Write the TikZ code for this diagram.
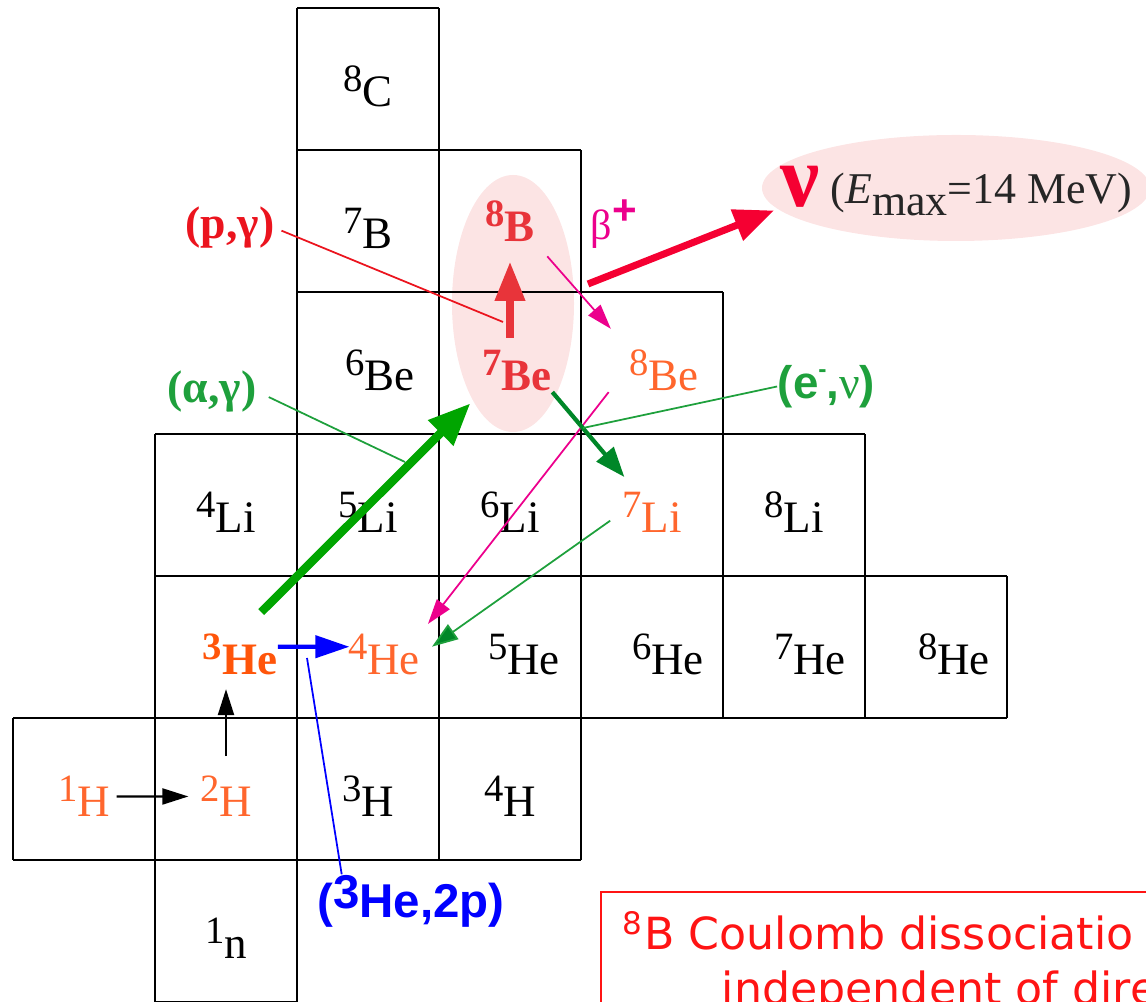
\documentclass[tikz,border=0pt]{standalone}
\usepackage{fontspec}
\setmainfont{Liberation Serif}
\newfontfamily\labsans{Liberation Sans}
\newfontfamily\notefont{DejaVu Sans}
\usetikzlibrary{arrows.meta}
\definecolor{isoorange}{RGB}{255,102,45}
\definecolor{heorange}{RGB}{255,85,10}
\definecolor{bered}{RGB}{232,52,58}
\definecolor{pinkbg}{RGB}{252,228,228}
\definecolor{nured}{RGB}{245,0,50}
\definecolor{agreen}{RGB}{0,165,0}
\definecolor{dgreen}{RGB}{0,135,40}
\definecolor{lgreen}{RGB}{30,160,60}
\definecolor{pgred}{RGB}{235,20,30}
\definecolor{notered}{RGB}{255,20,20}
\newcommand\iso[2]{\raisebox{4.4pt}{\fontsize{11}{11}\selectfont #1}#2}

\begin{document}
\begin{tikzpicture}[line cap=butt,
  cellline/.style={line width=0.8pt},
  iso/.style={anchor=base,inner sep=0pt,font=\fontsize{12.8}{14}\selectfont},
  rlabel/.style={inner sep=0pt,font=\fontsize{13}{14}\selectfont\bfseries},
  leader/.style={line width=0.5pt},
  blkarr/.style={-{Triangle[length=2.6mm,width=1.6mm]},line width=0.6pt},
  bluearr/.style={blue,-{Triangle[length=3.4mm,width=2.2mm]},line width=1.2pt},
  alphaarr/.style={agreen,-{Triangle[length=4.2mm,width=3.4mm]},line width=2.4pt},
  uparr/.style={bered,-{Triangle[length=3.9mm,width=2.9mm]},line width=2pt},
  nuarr/.style={nured,-{Triangle[length=4mm,width=3.2mm]},line width=2pt},
  magarr/.style={magenta,-{Triangle[length=2.5mm,width=1.6mm]},line width=0.5pt},
  ecarr/.style={dgreen,-{Triangle[length=3mm,width=2.2mm]},line width=1.2pt},
  pagarr/.style={lgreen,-{Triangle[length=2.6mm,width=1.8mm,fill=dgreen]},line width=0.5pt},
  notetext/.style={inner sep=0pt,text=notered,font=\notefont\fontsize{12.6}{15}\selectfont}]
\useasboundingbox (0,0) rectangle (11.46,10.02);
\clip (0,0) rectangle (11.46,10.02);
% pink backgrounds
\fill[pinkbg] (5.13,6.985) ellipse (0.61 and 1.285);
\fill[pinkbg] (9.56,8.14) ellipse (1.94 and 0.53);
% chart cells, one row per Z
\begin{scope}[shift={(0.13,0)},scale=1.42]
\draw[cellline,step=1] (1,0) grid (2,1);
\draw[cellline,step=1] (0,1) grid (4,2);
\draw[cellline,step=1] (1,2) grid (7,3);
\draw[cellline,step=1] (1,3) grid (6,4);
\draw[cellline,step=1] (2,4) grid (5,5);
\draw[cellline,step=1] (2,5) grid (4,6);
\draw[cellline,step=1] (2,6) grid (3,7);
\end{scope}
% nuclides
\node[iso] (n1) at (2.26,0.43) {\iso{1}{n}};
\node[iso,text=isoorange] (h1) at (0.84,1.85) {\iso{1}{H}};
\node[iso,text=isoorange] (h2) at (2.26,1.85) {\iso{2}{H}};
\node[iso] (h3) at (3.68,1.85) {\iso{3}{H}};
\node[iso] (h4) at (5.10,1.85) {\iso{4}{H}};
\node[iso,text=heorange,font=\fontsize{12.8}{14}\selectfont\bfseries] (he3) at (2.40,3.27) {\iso{3}{He}};
\node[iso,text=isoorange] (he4) at (3.84,3.27) {\iso{4}{He}};
\node[iso] (he5) at (5.24,3.27) {\iso{5}{He}};
\node[iso] (he6) at (6.68,3.27) {\iso{6}{He}};
\node[iso] (he7) at (8.10,3.27) {\iso{7}{He}};
\node[iso] (he8) at (9.54,3.27) {\iso{8}{He}};
\node[iso] (li4) at (2.26,4.69) {\iso{4}{Li}};
\node[iso] (li5) at (3.68,4.69) {\iso{5}{Li}};
\node[iso] (li6) at (5.10,4.69) {\iso{6}{Li}};
\node[iso,text=isoorange] (li7) at (6.52,4.69) {\iso{7}{Li}};
\node[iso] (li8) at (7.94,4.69) {\iso{8}{Li}};
\node[iso] (be6) at (3.80,6.11) {\iso{6}{Be}};
\node[iso,text=bered,font=\fontsize{12.8}{14}\selectfont\bfseries] (be7) at (5.17,6.11) {\iso{7}{Be}};
\node[iso,text=isoorange] (be8) at (6.64,6.11) {\iso{8}{Be}};
\node[iso] (b7) at (3.68,7.53) {\iso{7}{B}};
\node[iso,text=bered,font=\fontsize{12.8}{14}\selectfont\bfseries] (b8) at (5.10,7.60) {\iso{8}{B}};
\node[iso] (c8) at (3.68,8.95) {\iso{8}{C}};
% neutrino
\node[inner sep=0pt,text=nured,font=\fontsize{25}{26}\selectfont\bfseries] (nu) at (8.00,8.15) {ν};
\node[inner sep=0pt,text=black!85,font=\fontsize{12.5}{14}\selectfont] (emax) at (9.815,8.08) {(\textit{E}\raisebox{-1.2mm}{max}=14 MeV)};
% reaction labels
\node[rlabel,text=pgred] (pg) at (2.30,7.74) {(p,γ)};
\node[rlabel,text=lgreen] (ag) at (2.12,6.105) {(α,γ)};
\node[rlabel,text=lgreen] (en) at (8.265,6.155) {{\labsans(e\raisebox{0.45em}{\scriptsize -},}{\mdseries ν}{\labsans)}};
\node[rlabel,text=blue,font=\labsans\fontsize{13.5}{15}\selectfont\bfseries] (he3p) at (4.11,1.01) {(\raisebox{0.9mm}{3}He,2p)};
\node[inner sep=0pt,text=magenta,font=\fontsize{12}{13}\selectfont] (betap) at (6.14,7.78) {β\raisebox{0.35em}{\labsans\bfseries\fontsize{12}{12}\selectfont +}};
% free ends of the leaders
\coordinate (agend) at (4.05,5.40);
\coordinate (pgend) at (5.03,6.80);
\coordinate (encross) at (5.83,5.74);
\coordinate (blend) at (3.07,3.44);
\coordinate (nustart) at (5.88,7.18);
% reactions
\draw[blkarr,shorten <=0.6mm,shorten >=1.1mm] (h1.east) -- (h2.west);
\draw[blkarr,shorten <=1.9mm,shorten >=1.3mm] (h2.north) -- (h2.north |- he3.south);
\draw[bluearr,shorten >=-0.2mm] ([yshift=0.8mm]he3.east) -- ([yshift=0.8mm]he4.west);
\draw[blue,leader] (blend) -- ([xshift=2.5mm]he3p.north west);
\draw[alphaarr,shorten <=3mm,shorten >=1.6mm] (he3.north) -- (be7.south west);
\draw[lgreen,leader,shorten <=1.3mm] (ag.east) -- (agend);
\draw[pgred,leader,shorten <=0.7mm] (pg.east) -- (pgend);
\draw[uparr,shorten <=1.2mm,shorten >=1.9mm] (b8.south |- be7.north) -- (b8.south);
\draw[nuarr,shorten >=0.6mm] (nustart) -- (nu.south west);
\draw[magarr,shorten <=1.8mm,shorten >=2.7mm] (b8.south east) -- (be8.north west);
\draw[magarr,shorten >=1.2mm] ([xshift=-2mm]be8.south west) -- (he4.north east);
\draw[ecarr,shorten >=1.9mm] (be7.south east) -- ([xshift=1.5mm]li7.north west);
\draw[lgreen,leader] (en.west) -- (encross);
\draw[pagarr,shorten <=1.4mm,shorten >=1.4mm] (li7.west) -- (he4.east);
% note box
\draw[notered,line width=0.7pt] (6.01,1.10) rectangle (11.8,-0.2);
\node[notetext,anchor=base west] (note1) at (6.22,0.52) {\textsuperscript{8}B Coulomb dissociatio};
\node[notetext,anchor=base west] (note2) at (7.21,-0.03) {independent of dire};
\end{tikzpicture}
\end{document}
